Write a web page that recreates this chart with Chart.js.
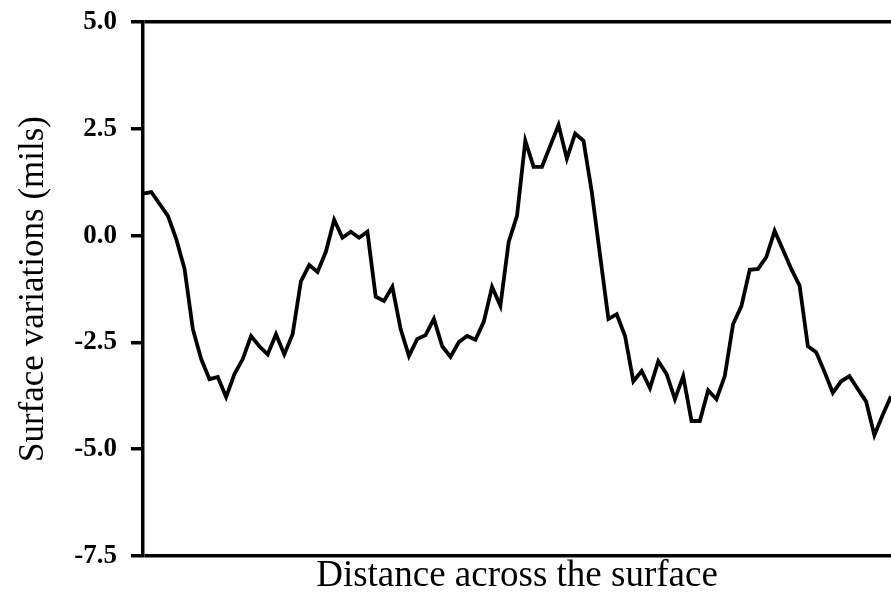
<!DOCTYPE html>
<html>
<head>
<meta charset="utf-8">
<script src="https://cdn.jsdelivr.net/npm/chart.js@4/dist/chart.umd.min.js"></script>
<style>
  html, body { margin: 0; padding: 0; background: #fff; }
  #wrap { width: 891px; height: 605px; }
</style>
</head>
<body>
<div id="wrap"><canvas id="myChart" width="891" height="605"></canvas></div>
<script>
// surface profile (mils)
const surface = [
  0.98, 1.02, 0.74, 0.46, -0.08, -0.78, -2.19, -2.89, -3.36, -3.31,
  -3.78, -3.24, -2.89, -2.35, -2.59, -2.78, -2.31, -2.78, -2.31, -1.07,
  -0.69, -0.85, -0.38, 0.37, -0.05, 0.09, -0.05, 0.09, -1.43, -1.53,
  -1.20, -2.19, -2.82, -2.42, -2.33, -1.95, -2.59, -2.84, -2.49, -2.35,
  -2.44, -2.02, -1.20, -1.64, -0.15, 0.46, 2.22, 1.61, 1.61, 2.10,
  2.59, 1.80, 2.39, 2.22, 1.02, -0.47, -1.95, -1.84, -2.35, -3.41,
  -3.17, -3.57, -2.94, -3.24, -3.83, -3.29, -4.34, -4.34, -3.62, -3.83,
  -3.29, -2.07, -1.65, -0.80, -0.78, -0.50, 0.11, -0.33, -0.78, -1.17,
  -2.59, -2.73, -3.19, -3.68, -3.41, -3.29, -3.59, -3.88, -4.67, -4.20,
  -3.76
];
const positions = surface.map((v, i) => i);
const yMin = -7.5;
const yMax = 5.0;
const yStep = 2.5;

const serif = '"Liberation Serif", "Times New Roman", serif';

document.addEventListener('DOMContentLoaded', () => {
  const ctx = document.getElementById('myChart').getContext('2d');
  new Chart(ctx, {
    type: 'line',
    data: {
      labels: positions,
      datasets: [{
        data: surface,
        borderColor: '#000',
        borderWidth: 3.8,
        pointRadius: 0,
        tension: 0,
        fill: false
      }]
    },
    options: {
      responsive: false,
      animation: false,
      layout: { padding: { top: 22, right: 0, bottom: 0, left: 0 } },
      plugins: {
        legend: { display: false },
        tooltip: { enabled: false }
      },
      scales: {
        x: {
          type: 'category',
          offset: false,
          ticks: { display: false },
          grid: { display: false },
          border: { display: false },
          title: {
            display: true,
            text: 'Distance across the surface',
            color: '#000',
            font: { family: serif, size: 37 },
            padding: { top: 0, bottom: 7 }
          },
          afterFit: (scale) => { scale.height = 49; }
        },
        y: {
          min: yMin,
          max: yMax,
          ticks: {
            stepSize: yStep,
            color: '#000',
            padding: 14,
            font: { family: serif, size: 27, weight: 'bold' },
            callback: (v) => Number(v).toFixed(1)
          },
          grid: {
            color: (c) => (c.index === 0 || c.index === 5) ? '#000' : 'transparent',
            tickColor: '#000',
            tickLength: 12,
            lineWidth: 3.5
          },
          border: { display: true, color: '#000', width: 3.5 },
          title: {
            display: true,
            text: 'Surface variations (mils)',
            color: '#000',
            font: { family: serif, size: 35 },
            padding: { top: 13, bottom: 0 }
          },
          afterFit: (scale) => {
            scale.width = 143;
            scale.paddingTop = 0;
            scale.paddingBottom = 0;
          }
        }
      }
    }
  });
});
</script>
</body>
</html>
